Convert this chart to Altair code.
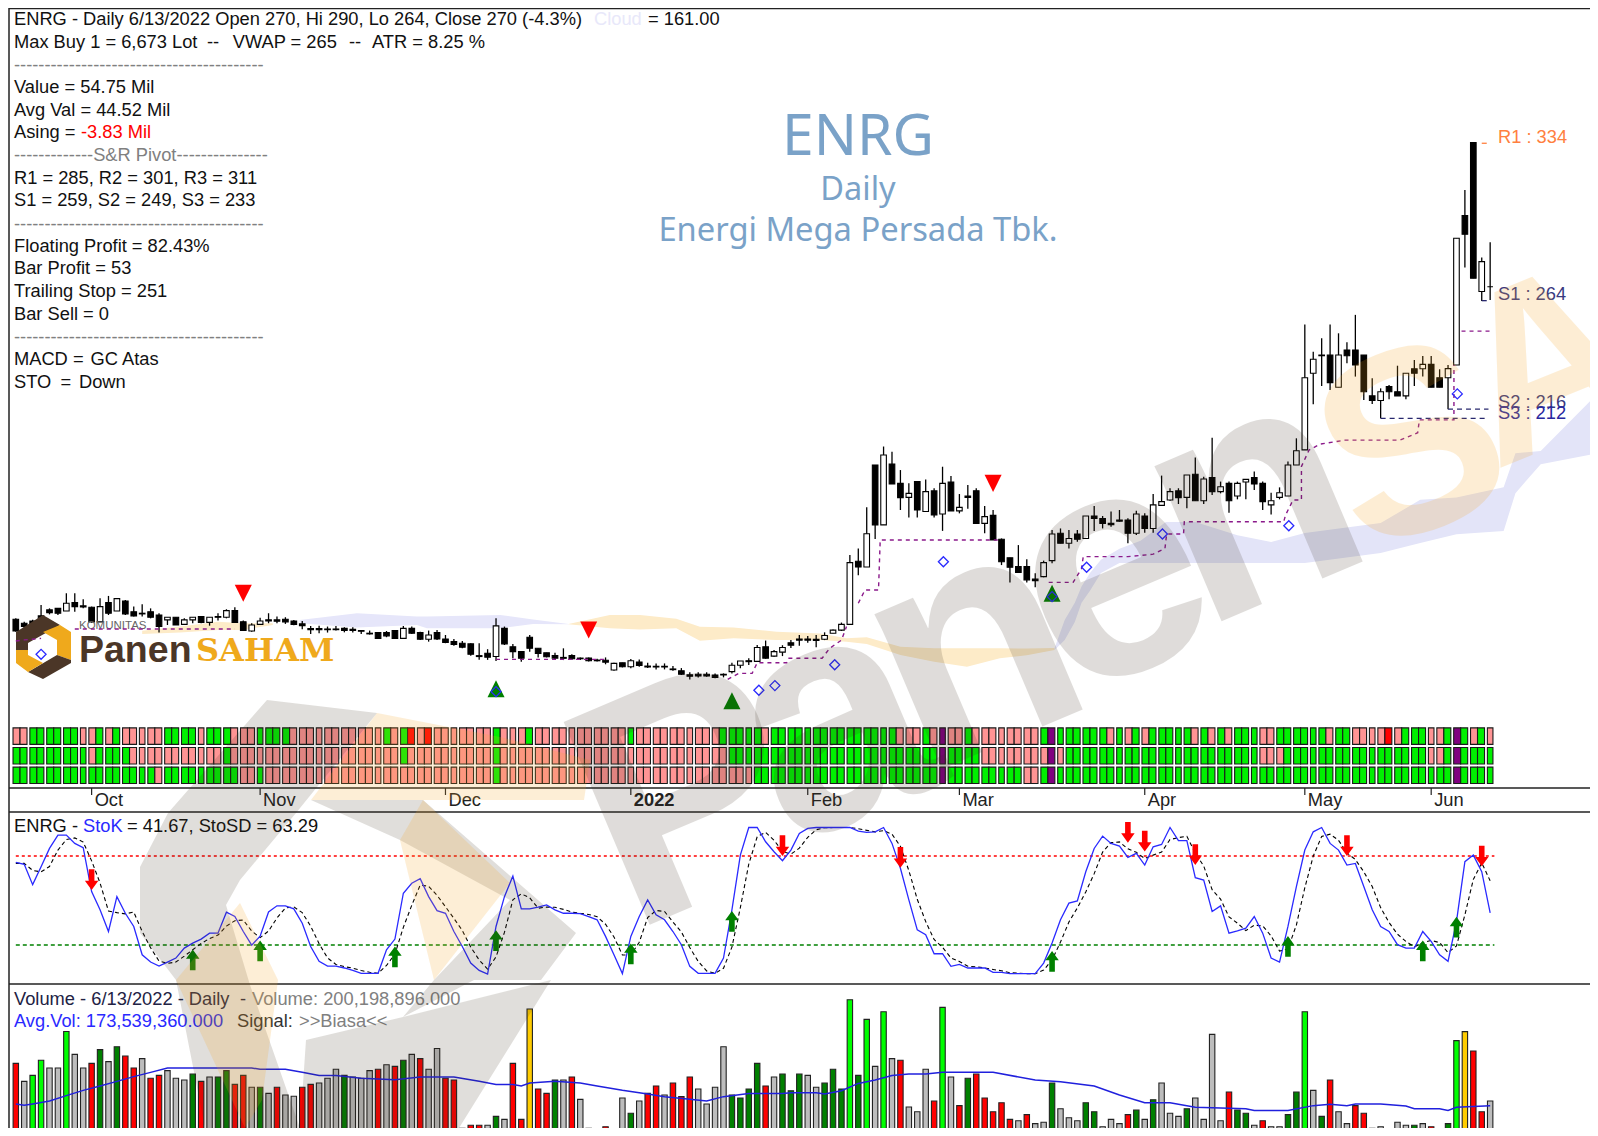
import altair as alt
import pandas as pd

alt.data_transformers.disable_max_rows()

# ---------- data ----------
# open, high, low, close per session
ohlc = [
(120.2,120.6,114.6,114.9),(118.4,119.1,116.1,116.9),(119.4,120,117.5,117.9),(121.7,126.6,119.9,119.9),(124.4,125.1,122.4,123.2),
(125.1,125.1,122.1,122.9),(123.9,131.9,123.9,127.4),(127.7,131.9,123.6,125.9),(126.2,129.2,125.1,125.7),(125.6,125.9,118.7,119),
(119,129.6,119,125.9),(127.7,130.7,122.1,122.9),(123.9,129.5,123.9,129.5),(128.4,128.9,122.1,122.6),(123.6,125.9,121.4,121.7),
(122.9,126.9,121.4,122.6),(123.6,125.1,120.6,121.1),(122.1,122.9,114.2,116.9),(119.9,121.1,117.6,121.1),(121.1,121.1,117.6,117.6),
(117.9,120.6,117.6,119.9),(119.9,121.1,118.4,121.1),(121.4,121.4,118.4,118.7),(118.8,121.1,117.3,121.1),(121.4,122.9,119.6,121.1),
(121.1,124.7,120.6,124.1),(124.1,125.6,118.8,118.8),(119.1,119.6,114.9,115.1),(114.9,118.4,114.6,117.6),(117.9,120.9,117.6,119.4),
(119.9,122.9,118.4,119.4),(119.9,121.4,118.4,119.3),(120.2,121.1,118.1,119),(119.4,119.9,117.5,117.8),(118.1,119.4,115.7,117.3),
(116,117.2,113.6,115.5),(116,117.3,113.9,115.5),(115.8,116.9,114.2,115.5),(115.8,117.2,115.1,115.5),(116.1,116.6,114.3,115.1),
(115.7,116.6,114.2,115.2),(115.1,115.4,113.6,114.8),(113.9,115.1,113.3,113.6),(114.2,114.5,111.3,111.6),(114.2,114.9,112.1,112.7),
(115.1,115.1,111.5,111.6),(111.6,117.2,111.6,116.1),(116.1,116.9,113.6,113.9),(114.2,114.6,110.9,111.2),(111.2,115.1,110.1,113.1),
(114.2,115.4,110.9,111.3),(111.3,113.1,109.4,109.7),(110.1,111.3,108.3,108.8),(109.4,110.4,107.1,107.6),(109.1,109.4,103.7,104.4),
(103.8,109.4,101.9,103.4),(104.9,106.7,101.9,103.1),(103.4,120.6,101.4,117.2),(116.1,116.9,108.6,109.1),(107.8,109,102.6,105.6),
(105.6,105.6,101.1,102.6),(112.1,113.1,105.6,107.1),(107.1,107.1,103,104.8),(105.1,105.1,103,103.3),(103.8,105.1,101.8,102.7),
(103,107.1,101.8,102.6),(103.8,104.4,101.8,102.4),(102.7,103,101.8,102.4),(102.7,103,101.2,101.5),(101.8,102.4,101.2,101.5),
(101.7,103,99.9,100.9),(97.3,100.6,97,100.3),(100.6,100.6,98.5,98.8),(98.8,102.3,98.1,101.5),(100.9,102.1,98.8,99.4),
(99.1,100.6,98.2,98.7),(99,100.3,97.6,98.7),(99,100.3,97.6,98.7),(97.8,99.1,97,97.5),(97,98.2,95.1,95.4),
(95.2,96.3,93.1,94.5),(95.4,96.3,94,94.6),(95.4,96.3,94.3,94.6),(95.1,95.8,93.6,94),(95.4,95.8,94,95.1),
(96.6,100.6,95.8,99.5),(99.5,101.4,98.1,101.4),(101.5,102.6,99.6,101.1),(101.2,108.6,100.9,107.5),(107.8,110.6,102.4,102.7),
(103.6,106.3,103.3,105.6),(105.4,108.5,103.6,107.5),(109.6,110.8,107.2,108.5),(111.3,113.1,108.3,110.8),(111.3,112.6,109.6,110.8),
(111.2,113.1,107.6,110.7),(111.2,114.3,110.8,112.9),(113.9,115.6,113.9,115.3),(115.3,118.7,114.9,117.9),(117.9,149.1,117.9,145.7),
(146.3,152.1,140,143.7),(143.7,170.6,143.7,158.7),(189.7,189.7,156.3,162.7),(162.7,198,162.7,194.2),(190.1,195.7,181.1,181.1),
(181.4,187.4,169.4,175),(175.1,181.4,166,176.9),(182.2,182.2,166,169.4),(168.7,183.2,168.7,177.7),(178,179.2,166,167.2),
(167.6,188.9,160,181.4),(182,184.7,169,169),(169,176.6,167.9,170.6),(175.7,180.7,170,175.1),(178.1,179.2,163.4,163.4),
(163.4,171.2,158.9,166.4),(167,169.4,155.9,155.9),(156.2,156.6,144.6,146.1),(147.9,147.9,136.7,143.6),(143.9,153.6,141.3,141.3),
(143.9,147.2,136.7,137.9),(138.3,140.9,134.6,137.6),(139.4,146.6,139.1,145.7),(146.6,160.4,145.4,158.6),(158.9,161.1,154.4,154.4),
(154.4,160.4,152.1,156.6),(158.6,160.4,155.1,156.2),(156.6,166.7,156.6,166.7),(166.7,171.2,159.9,165.6),(165.6,166.7,161.1,163.4),
(163.4,168.7,161.9,162.8),(164.9,169.4,164.1,164.4),(164.9,165.7,154.4,158.9),(158.9,169.1,158.1,167.6),(166.7,167.9,159.2,161.1),
(161.1,176.6,159.2,171.7),(171.5,184.9,171.5,173.2),(173.9,179.2,173.6,177.7),(178,179.2,172.1,175),(175.1,185.2,170.2,185.2),
(185.5,193.1,173.6,173.6),(173.6,184.4,172.1,183.4),(184,202,176.2,177.7),(177.7,182.2,176.9,179.9),(181.4,182.2,168.2,173.6),
(175.7,182.2,174.2,181.4),(182,183.2,174.2,183.2),(184,186.7,178.4,181.1),(181.4,182.2,169.4,173.2),(171.7,177.2,167.4,173.6),
(175.1,179.6,174.2,177.2),(175.7,191.2,175.7,189.7),(189.7,201.7,189.7,196.1),(196.5,253,196.5,229),(231,240.7,217,237.3),
(239.2,246.8,225.3,238.9),(239.2,253,223.5,226.8),(224.7,249,224.7,239.2),(241.5,245,235.5,238.9),(241.5,257.3,229.5,234.7),
(239.2,239.2,219,222.7),(220.8,228.7,217.2,218.7),(218.7,224.2,210.7,222.7),(225,225.7,219.3,222.7),(222.7,234.4,220.8,220.8),
(220.8,231,219.3,231),(233,237,225.3,231),(233,238.8,229.5,235),(235,238.8,224.7,224.7),(229,232.8,224.7,224.7),
(229,234.7,214.8,233.1),(234.7,291.8,234.7,291.8),(302,313.6,278.6,293.6),(334.9,334.9,273.8,273.8),(267.8,283.2,263.6,281.3),
(270,290,264,270),
]
# volume in millions of shares
volume = [
422,316,351,440,395,395,610,475,395,422,503,432,520,465,395,450,334,351,379,334,
324,359,316,342,342,379,298,351,281,281,245,281,236,228,281,298,306,334,387,351,
342,334,379,387,414,404,440,475,450,387,510,334,324,39,57,57,57,110,92,422,
92,742,271,245,324,324,342,210,39,14,49,22,218,128,200,245,289,236,306,226,
342,271,183,281,520,236,218,271,422,289,342,359,261,359,
351,281,306,387,271,797,351,681,404,726,450,440,165,137,387,200,752,342,173,334,
359,218,137,190,92,84,120,67,75,306,155,102,84,190,137,49,92,67,120,147,
92,208,306,128,110,155,218,92,593,84,253,147,128,57,84,49,49,120,253,726,
263,110,324,137,67,173,128,39,49,31,75,57,57,67,49,31,67,556,609,495,137,200,
]
vol_codes = ("rkbbkkbkkr" "gkgrrkrrkk" "kgrkggrrkg" "krkkrrkkkg" "kkkrkrgkrk" "krrrrrkgkr"
             "ryrrgkrkkk" "rkkgkrrkrr" "rkkkkggggr" "kgggkkgggb" "gbkbkrkkkr" "bkrgrrrrrk"
             "rkkgkkkggk" "kkrgkgkkkg" "kkkkrggkrk" "kggbkgrkkr" "rrkkkkgkrk" "gbyrrk")
vol_palette = {"r": "#ff0000", "k": "#bdbdbd", "b": "#00ff00", "g": "#008000", "y": "#ffcc00"}
avg_i = [0,1,2,4,6,8,10,12,14,16,18,28,29,32,34,36,38,41,45,48,52,55,57,59,60,61,64,67,69,72,75,77,80,82,84,87,91,
         92,95,96,98,100,102,104,106,108,110,116,121,124,128,131,134,137,140,146,147,151,154,156,158,159,162,165,166,169,170,171,175]
avg_v = [183,175,183,200,232,263,289,316,344,369,395,395,387,387,369,351,351,334,326,342,342,316,298,298,289,306,316,306,289,263,241,226,210,200,226,245,245,
         249,249,241,261,304,324,351,359,359,369,369,324,314,289,236,190,190,163,155,145,145,173,181,173,183,183,171,155,155,145,163,173]

stoch_k = [
75.7,74.4,60.7,72.8,85.1,94.1,94.1,88.5,85.6,56,43.7,29.1,52.6,41.4,32.5,13.4,8.5,5.8,8.5,11.2,
17.9,21.3,24,28,28,42.1,39.2,29.1,19.9,26,42.3,46.4,46.4,44.4,34.7,19,9,5.8,5.8,4.5,
2.9,.9,.9,.9,16.8,24,54.9,61.6,64.7,52.6,43.2,41.4,29.1,19,7.8,2.9,.4,32.5,52.6,66.5,
44.4,44.4,45.5,47,43.7,41.4,41.4,41.2,39.2,37,25.8,13.4,.7,25.8,39.2,50.4,40.3,37,29.1,20.2,
5.6,.9,.9,.9,11.2,43.7,80.6,99.2,99.2,89.6,82.9,76.8,84,95.2,98.6,99.2,99.2,99.2,99.2,99.2,
96.8,95.9,96.3,99.2,88.5,71.7,50.4,30.2,26.9,14.1,14.1,5.6,6.9,4.5,4.5,4.5,1.6,1.6,.7,.7,
.7,.7,7.8,21.3,37,48.2,49.7,69.4,85.1,93.4,88.5,86.7,79.1,81.8,73.9,86.2,87.8,99.2,90.3,90.3,
65.4,63.8,42.6,46.4,28,29.6,31.4,39.2,28,11.2,8.5,32.5,59.4,84,96.3,99.2,88.5,84,73.9,75,
59.4,43.7,32.5,29.1,20.2,17.9,17.9,29.1,22.4,13.4,9,35.8,76.2,80.6,69.4,41.67,
]
stoch_d = [
75,75,70.3,69.3,72.9,84,91.1,92.2,89.4,76.7,61.8,42.9,41.8,41,42.2,29.1,18.1,9.2,7.6,8.5,
12.5,16.8,21,24.4,26.7,32.7,36.4,36.8,29.4,25,29.4,38.2,45,45.7,41.8,32.7,20.9,11.3,6.9,5.4,
4.4,2.8,1.6,.9,6.2,13.9,31.9,46.8,60.4,59.6,53.5,45.8,37.9,29.8,18.6,9.9,3.7,12,28.5,50.5,
54.5,51.8,44.8,45.6,45.4,44,42.2,41.3,40.6,39.1,34,25.4,13.3,13.3,21.9,38.5,43.3,42.6,35.5,28.8,
18.3,8.9,2.5,.9,4.3,18.6,45.2,74.5,93,96,90.6,83.1,81.2,85.3,92.6,97.7,99,99.2,99.2,99.2,
98.4,97.3,96.3,97.1,94.7,86.5,70.2,50.8,35.8,23.7,18.4,11.3,8.9,5.7,5.3,4.5,3.5,2.6,1.3,1,
.7,.7,3.1,9.9,22,35.5,45,55.8,68.1,82.6,89,89.5,84.8,82.5,78.3,80.6,82.6,91.1,92.4,93.3,
82,73.2,57.3,50.9,39,34.7,29.7,33.4,32.9,26.1,15.9,17.4,33.5,58.6,79.9,93.2,94.7,90.6,82.1,77.6,
69.4,59.4,45.2,35.1,27.3,22.4,18.7,21.6,23.1,21.6,14.9,19.4,40.3,64.2,75.4,63.29,
]
sell_i = [9,91,105,132,134,140,158,174]
sell_v = [64,87,79,96,90,81,87,80]
buy_i = [21,29,45,57,73,85,123,151,167,171]
buy_v = [10,16,12,23,14,36,9,19,16,32]

heat_rows = [
 ("PPGGGGGGPP" "GPGPPPPPGG" "GGPGGGPPPG" "GGGPPPPPPP" "PPPPGPGRPR" "PPPPPPPGPP" "PGPPPPPPPP" "PPPGPPPPPP" "PPPPGGGGGP"
  "GGGGGGGGGG" "GGGGGPPPGP" "UPPGPPPPPP" "PPGUGGGGGG" "PGPGPGGGGG" "PGPGPGGGPP" "GGGGGGPGGP" "PPPRPGGGPP" "GUGPGP"),
 ("GGGGGGGGGP" "GGGGPPPPPP" "PPPPPGPPPP" "PPPPPPPPPP" "PPPPPPGPPP" "PPPPPPPGPP" "PPPPPPPPPP" "PPPPPPPPPP" "PPPPPGGGGG"
  "GGGGGGGGGG" "GGGGGGGGGG" "UGGGGPPPPP" "PPPUPGGGGG" "GGGGGGGGGG" "GGGGGGGGPP" "PGGGGGGGGG" "GGGGGGGGPP" "GUGGGG"),
 ("GGGGGGGGGG" "GGGGGGGPGG" "GGGGGGGPPG" "PPPPPPPPPP" "PPPPPPPPPP" "PPPPPPPGPP" "PPPPPPPPPP" "PPPPPPPPPP" "PPPPPPPPGG"
  "GGGGGGGGGG" "GGGGGGGGGG" "UGGGGGGGGG" "PPGUGGGGGG" "GGGGGGGGGG" "GGGGGGGGGG" "GGGGGGGGGG" "GGGGGGGGGG" "GUGGGG"),
]
heat_palette = {"G": "#00f000", "P": "#ff9494", "R": "#ff0000", "U": "#800080"}
heat_singles = [8,15,22,29,36,43,52,59,66,73,80,87,94,103,110,117,124,131,138,147,154,161,168,175]

trail_segments = [
 [(0,110.4),(1,110.9),(2,111.2),(3,111.6)],
 [(7,115.8),(26,115.8)],
 [(57,102.1),(70,102.1)],
 [(84.5,93.1),(85.8,95.8),(87.4,95.8),(88,100.6),(91.5,100.6),(91.7,102.6),(95.7,102.6),(96.6,107.1),(98,110.8),(98.6,116.9)],
 [(100,127.4),(100.8,133.4),(102.4,133.4),(102.6,155.9),(117,155.9)],
 [(122.6,136.8),(125.5,136.8),(126.5,143),(126.7,148.4),(132,148.4),(135,149.5),(136.4,152.1),(136.6,158.6),(138.6,158.6),
  (138.7,164.1),(150.5,164.1),(150.7,167),(151.6,173.9),(152.6,173.9),(152.6,189),(153.5,196.4),(154.8,199.1),(157.8,200.9),
  (164.3,200.9),(166.4,204.2),(166.6,210),(170.7,210),(170.7,234.7)],
 [(171.6,250),(175.2,250)],
]
diamond_i = [3,57,88.2,90.1,97.2,110.1,123,127.1,136.1,151.1,171.1]
diamond_p = [104.4,87.6,88.2,90.3,99.7,146.1,130.4,143.6,158.6,162.3,221.7]
tri_down_i = [27,68,116]
tri_down_p = [131.9,115.4,181.4]
tri_up_i = [57,85,123]
tri_up_p = [88.9,83.5,131.9]

levels = [("R1",174,174.7,334.6,"#ff8040"),("S1",174,175,263.7,"#28286e"),("S2",170,174.8,214.8,"#28286e"),("S3",162,174.4,210.7,"#28286e")]

cloud_lav1 = [(33.7,119.9,118.4),(40.5,122.9,116.5),(47.6,121.4,117.6),(48.8,121.4,116.1),(57.5,122.1,116.1),(61.4,120.1,118.1),(65.6,118.1,117.9)]
cloud_cream1 = [(15,115,113.5),(19.5,116.9,114.2),(24,119.1,115.4),(27,118.4,115.4),(30.5,118.4,117.6)]
cloud_cream2 = [(65.6,118.1,117.9),(70.5,122.1,116.1),(74.1,122.1,115.6),(78.4,120.4,116.1),(81.2,116.8,110.5),(85.2,116.5,111.6),(90.3,114.6,110.8),
                (95.5,113.8,110.8),(98.6,111.6,110.1),(101,112.1,109),(105,107.8,104.1),(109,107.1,101.1),(112.9,107.1,98.8),(116.8,107.1,102.6),(120,107,104),(123.3,107.2,106.3)]
cloud_lav2 = [(123.3,107.2,106.3),(124.5,119.8,110.8),(125.7,127.6,119),(126.5,135,127.6),(127.5,141,133),(128.8,147,141),(131,152,145.5),(133.5,155.5,145.5),
              (136.5,164,145.5),(140,164,145.5),(145,158,145.5),(149,155,145.5),(153,159,145.5),(162,163.5,150),(166.7,174,154.5),(171,175,158.5),
              (176.6,179.7,160),(178,195,177),(181,196,190),(187.8,222,195)]

month_i = [9,29,51,73,94,112,134,153,168]
month_labels = ["Oct","Nov","Dec","2022","Feb","Mar","Apr","May","Jun"]

# ---------- scales ----------
W, H = 1582, 1120
X = alt.Scale(domain=[-0.926, 186.85], nice=False, zero=False, padding=0)
YP = alt.Scale(domain=[44, 396], range=[780.4, -1.04], nice=False, zero=False)
YS = alt.Scale(domain=[0, 100], range=[966.67, 818.33], nice=False, zero=False)
YV = alt.Scale(domain=[0, 800], range=[1127, 991.2], nice=False, zero=False)
YH = alt.Scale(domain=[0, 3], range=[719.5, 778.3], nice=False, zero=False)
FONT = "Liberation Sans"
TS = 18.3

def xe(f="i"):
    return alt.X(f"{f}:Q", scale=X, axis=None)
def ye(f, s):
    return alt.Y(f"{f}:Q", scale=s, axis=None)
def y2e(f):
    return alt.Y2(f"{f}:Q")

layers = []

# clouds
def cloud(rows, color):
    df = pd.DataFrame(rows, columns=["i", "top", "bot"])
    return alt.Chart(df).mark_area(color=color, opacity=1, orient="vertical", interpolate="linear").encode(
        x=xe(), y=ye("top", YP), y2=y2e("bot"))
layers += [cloud(cloud_lav1, "#e6e6fa"), cloud(cloud_cream1, "#fdebc8"), cloud(cloud_cream2, "#fdebc8"), cloud(cloud_lav2, "#e3e4f8")]

# candles
cd = pd.DataFrame(ohlc, columns=["o", "h", "l", "c"])
cd["i"] = range(len(cd))
cd["fill"] = ["#000000" if c < o else "#ffffff" for o, c in zip(cd.o, cd.c)]
layers.append(alt.Chart(cd).mark_rule(color="#000000", strokeWidth=1.3).encode(x=xe(), y=ye("h", YP), y2=y2e("l")))
layers.append(alt.Chart(cd).mark_bar(size=5.6, stroke="#000000", strokeWidth=1.1, orient="vertical").encode(
    x=xe(), y=ye("o", YP), y2=y2e("c"), fill=alt.Fill("fill:N", scale=None)))

# logo on top of the first candles
def poly(points, color, opacity=1.0):
    d = "M" + " L".join(f"{x-8},{y-8}" for x, y in points) + " Z"
    return alt.Chart(pd.DataFrame({"a": [0]})).mark_point(shape=d, size=4, filled=True, fill=color, opacity=opacity, strokeWidth=0).encode(
        x=alt.value(0), y=alt.value(0))
def txt(x, y, s, color="#111111", size=TS, weight="normal", align="left", font=FONT, baseline="middle", angle=None, opacity=1.0):
    kw = dict(text=s, color=color, fontSize=size, fontWeight=weight, align=align, font=font, baseline=baseline, opacity=opacity)
    if angle is not None:
        kw["angle"] = angle
    return alt.Chart(pd.DataFrame({"a": [0]})).mark_text(**kw).encode(x=alt.value(x - 8), y=alt.value(y - 8))

BROWN, GOLD = "#4b3627", "#efa91c"
layers += [
    poly([(16,632),(43,615),(60,625),(28,643),(28,650),(16,650)], BROWN),
    poly([(60,625),(71,632),(71,660),(57,655),(57,640),(43,632)], GOLD),
    poly([(71,660),(71,663),(43,679),(28,672),(57,655)], BROWN),
    poly([(16,650),(28,650),(28,655),(43,663),(28,672),(16,663)], GOLD),
    txt(79, 651, "Panen", BROWN, 37.5, "bold"),
    txt(196, 651, "SAHAM", GOLD, 32, "bold", font="DejaVu Serif"),
    txt(79, 626, "KOMUNITAS", "#666666", 11.5),
]

# trailing stop
td = pd.DataFrame([(k, i, p) for k, seg in enumerate(trail_segments) for i, p in seg], columns=["seg", "i", "p"])
td["o"] = range(len(td))
layers.append(alt.Chart(td).mark_line(color="#8b1a8b", strokeWidth=1.4, strokeDash=[4, 4]).encode(
    x=xe(), y=ye("p", YP), detail="seg:N", order="o:Q"))

# levels
lv = pd.DataFrame(levels, columns=["name", "i", "i2", "p", "col"])
layers.append(alt.Chart(lv).mark_rule(strokeWidth=1.3, strokeDash=[5, 4]).encode(
    x=xe(), x2=alt.X2("i2:Q"), y=ye("p", YP), color=alt.Color("col:N", scale=None)))

# signals
cs_tri_down = "M-1,-1 L1,-1 L0,1 Z"
cs_tri_up = "M-1,1 L1,1 L0,-1 Z"
layers.append(alt.Chart(pd.DataFrame({"i": tri_down_i, "p": tri_down_p})).mark_point(shape=cs_tri_down, size=290, filled=True, fill="#ff0000", opacity=1, strokeWidth=0).encode(x=xe(), y=ye("p", YP)))
layers.append(alt.Chart(pd.DataFrame({"i": tri_up_i, "p": tri_up_p})).mark_point(shape=cs_tri_up, size=290, filled=True, fill="#008000", opacity=1, strokeWidth=0).encode(x=xe(), y=ye("p", YP)))
layers.append(alt.Chart(pd.DataFrame({"i": diamond_i, "p": diamond_p})).mark_point(shape="diamond", size=100, filled=False, color="#2a2aff", opacity=1, strokeWidth=1.3).encode(x=xe(), y=ye("p", YP)))

# heat strip: singles stand alone, the others pair up and share a border
single = set(heat_singles)
pair_side = {}
i = 0
while i < 176:
    if i in single:
        pair_side[i] = "s"; i += 1
    else:
        pair_side[i] = "l"
        if i + 1 < 176 and (i + 1) not in single:
            pair_side[i + 1] = "r"; i += 2
        else:
            i += 1
heat = [(r, i, code) for r, row in enumerate(heat_rows) for i, code in enumerate(row)]
hd = pd.DataFrame(heat, columns=["r", "i", "code"])
GAP = 0.17
hd["x0"] = [i - 0.5 + (GAP if pair_side[i] in "sl" else 0) for i in hd.i]
hd["x1"] = [i + 0.5 - (GAP if pair_side[i] in "sr" else 0) for i in hd.i]
hd["y0"] = hd.r + 0.02
hd["y1"] = hd.r + 0.86
hd["fill"] = [heat_palette[c] for c in hd.code]
layers.append(alt.Chart(hd).mark_rect(stroke="#1a1a1a", strokeWidth=1.1).encode(
    x=xe("x0"), x2=alt.X2("x1:Q"), y=ye("y0", YH), y2=y2e("y1"), fill=alt.Fill("fill:N", scale=None)))

# month ticks
md = pd.DataFrame({"i": month_i, "label": month_labels})
md["weight"] = ["bold" if l == "2022" else "normal" for l in month_labels]
layers.append(alt.Chart(md).mark_rule(color="#222222", strokeWidth=1.2).encode(
    x=xe(), y=alt.value(780), y2=alt.value(787)))
layers.append(alt.Chart(md[md.weight == "normal"]).mark_text(font=FONT, fontSize=TS, align="left", baseline="middle", dx=3, color="#222222").encode(
    x=xe(), y=alt.value(793), text="label:N"))
layers.append(alt.Chart(md[md.weight == "bold"]).mark_text(font=FONT, fontSize=TS, fontWeight="bold", align="left", baseline="middle", dx=3, color="#222222").encode(
    x=xe(), y=alt.value(793), text="label:N"))

# stochastic
sd = pd.DataFrame({"i": range(176), "k": stoch_k, "d": stoch_d})
layers.append(alt.Chart(pd.DataFrame({"i": [0], "i2": [175.5], "v": [80]})).mark_rule(color="#ff0000", strokeWidth=1.3, strokeDash=[3, 3]).encode(x=xe(), x2=alt.X2("i2:Q"), y=ye("v", YS)))
layers.append(alt.Chart(pd.DataFrame({"i": [0], "i2": [175.5], "v": [20]})).mark_rule(color="#008000", strokeWidth=1.3, strokeDash=[4, 3]).encode(x=xe(), x2=alt.X2("i2:Q"), y=ye("v", YS)))
layers.append(alt.Chart(sd).mark_line(color="#000000", strokeWidth=1.1, strokeDash=[4, 3]).encode(x=xe(), y=ye("d", YS)))
layers.append(alt.Chart(sd).mark_line(color="#2a2aff", strokeWidth=1.3).encode(x=xe(), y=ye("k", YS)))
ARROW_DN = "M-0.27,-1 L0.27,-1 L0.27,0.1 L0.65,0.1 L0,1 L-0.65,0.1 L-0.27,0.1 Z"
ARROW_UP = "M-0.27,1 L0.27,1 L0.27,-0.1 L0.65,-0.1 L0,-1 L-0.65,-0.1 L-0.27,-0.1 Z"
layers.append(alt.Chart(pd.DataFrame({"i": sell_i, "v": sell_v})).mark_point(shape=ARROW_DN, size=430, filled=True, fill="#ff0000", opacity=1, strokeWidth=0).encode(x=xe(), y=ye("v", YS)))
layers.append(alt.Chart(pd.DataFrame({"i": buy_i, "v": buy_v})).mark_point(shape=ARROW_UP, size=430, filled=True, fill="#008000", opacity=1, strokeWidth=0).encode(x=xe(), y=ye("v", YS)))

# volume
vd = pd.DataFrame({"i": range(176), "v": volume, "z": [0] * 176})
vd["fill"] = [vol_palette[c] for c in vol_codes]
layers.append(alt.Chart(vd).mark_bar(size=5.4, stroke="#222222", strokeWidth=1.1, orient="vertical").encode(
    x=xe(), y=ye("v", YV), y2=y2e("z"), fill=alt.Fill("fill:N", scale=None)))
layers.append(alt.Chart(pd.DataFrame({"i": avg_i, "v": avg_v})).mark_line(color="#2020dd", strokeWidth=1.5).encode(x=xe(), y=ye("v", YV)))

# frame lines
def hline(y):
    return alt.Chart(pd.DataFrame({"a": [0]})).mark_rule(color="#222222", strokeWidth=1.5).encode(x=alt.value(1), x2=alt.value(W), y=alt.value(y - 8))
layers += [hline(788), hline(812), hline(984), hline(8.6)]
layers.append(alt.Chart(pd.DataFrame({"a": [0]})).mark_rule(color="#222222", strokeWidth=1.5).encode(x=alt.value(1), y=alt.value(0), y2=alt.value(H)))

# texts
BLK = "#111111"
GRY = "#808080"
DASH = "-" * 41
DY = 1.5
info = [
 (14, 18.3, "ENRG - Daily 6/13/2022 Open 270, Hi 290, Lo 264, Close 270 (-4.3%)", BLK),
 (594, 18.3, "Cloud", "#e8e8fa"),
 (648, 18.3, "= 161.00", BLK),
 (14, 41, "Max Buy 1 = 6,673 Lot", BLK),
 (207, 41, "--", BLK),
 (232.7, 41, "VWAP = 265", BLK),
 (349, 41, "--", BLK),
 (372, 41, "ATR = 8.25 %", BLK),
 (14, 64.3, DASH, GRY),
 (14, 86.3, "Value = 54.75 Mil", BLK),
 (14, 109, "Avg Val = 44.52 Mil", BLK),
 (14, 131.7, "Asing =", BLK),
 (81, 131.7, "-3.83 Mil", "#ff0000"),
 (14, 154.7, "-------------S&R Pivot---------------", GRY),
 (14, 177, "R1 = 285, R2 = 301, R3 = 311", BLK),
 (14, 199.7, "S1 = 259, S2 = 249, S3 = 233", BLK),
 (14, 223.3, DASH, GRY),
 (14, 245.3, "Floating Profit = 82.43%", BLK),
 (14, 267.7, "Bar Profit = 53", BLK),
 (14, 290.3, "Trailing Stop = 251", BLK),
 (14, 313, "Bar Sell = 0", BLK),
 (14, 336.7, DASH, GRY),
 (14, 358.7, "MACD =", BLK),
 (90.6, 358.7, "GC Atas", BLK),
 (14, 381.7, "STO", BLK),
 (60.6, 381.7, "=", BLK),
 (79, 381.7, "Down", BLK),
 (14, 825, "ENRG -", BLK),
 (83, 825, "StoK", "#2a2aff"),
 (127, 825, "= 41.67, StoSD = 63.29", BLK),
 (14, 998, "Volume - 6/13/2022 - Daily", "#222244"),
 (240, 998, "-", "#222244"),
 (252, 998, "Volume: 200,198,896.000", GRY),
 (14, 1020, "Avg.Vol: 173,539,360.000", "#2a2aff"),
 (237, 1020, "Signal:", "#333333"),
 (299, 1020, ">>Biasa<<", GRY),
]
layers += [txt(x, y + DY, s, c) for x, y, s, c in info]
layers += [
    txt(858, 138, "ENRG", "#7aa2c8", 57, align="center", font="Noto Sans"),
    txt(858, 190, "Daily", "#7aa2c8", 32.5, align="center", font="Noto Sans"),
    txt(858, 230.5, "Energi Mega Persada Tbk.", "#7aa2c8", 32.7, align="center", font="Noto Sans"),
    txt(1498, 137.5, "R1 : 334", "#ff8040"),
    txt(1498, 294.5, "S1 : 264", "#383880"),
    txt(1498, 402.5, "S2 : 216", "#383880"),
    txt(1498, 414, "S3 : 212", "#2828a0"),
]

# watermark over everything
GR, CR = "#3c2f20", "#f5a623"
layers += [
    poly([(267,700),(377,713),(296,813),(240,880),(226,905),(250,985),(300,1128),(205,1128),(176,980),(140,933),(140,867),(168,813)], GR, 0.16),
    poly([(311,800),(423,800),(576,933),(541,980),(474,980),(403,1017),(434,980),(510,900),(400,840)], GR, 0.16),
    poly([(300,1128),(306,1040),(403,1017),(551,980),(459,1128)], GR, 0.16),
    poly([(377,713),(500,737),(590,760),(584,800),(423,800),(311,800)], CR, 0.19),
    poly([(423,800),(510,883),(434,980),(400,840)], CR, 0.19),
    poly([(240,903),(278,980),(262,1100),(245,1128),(176,980)], CR, 0.19),
    txt(630, 933, "P", GR, 320, "bold", baseline="alphabetic", angle=337, opacity=0.16),
    txt(789, 848, "a", GR, 320, "bold", baseline="alphabetic", angle=337, opacity=0.16),
    txt(921, 778, "n", GR, 320, "bold", baseline="alphabetic", angle=337, opacity=0.16),
    txt(1067, 701, "e", GR, 320, "bold", baseline="alphabetic", angle=337, opacity=0.16),
    txt(1201, 630, "n", GR, 320, "bold", baseline="alphabetic", angle=337, opacity=0.16),
    txt(1363, 556, "S", CR, 260, "bold", baseline="alphabetic", angle=338, opacity=0.19),
    txt(1495, 470, "A", CR, 240, "bold", baseline="alphabetic", angle=338, opacity=0.19),
]

assert len(ohlc) == 176 and len(volume) == 176 and len(vol_codes) == 176 and len(stoch_k) == 176 and len(stoch_d) == 176

chart = alt.layer(*layers).resolve_scale(y="independent").properties(
    width=W, height=H, padding=0, autosize=alt.AutoSizeParams(type="none"), background="#ffffff"
).configure_view(strokeWidth=0)

chart.save("out.html", embed_options={"renderer": "svg", "actions": False})
